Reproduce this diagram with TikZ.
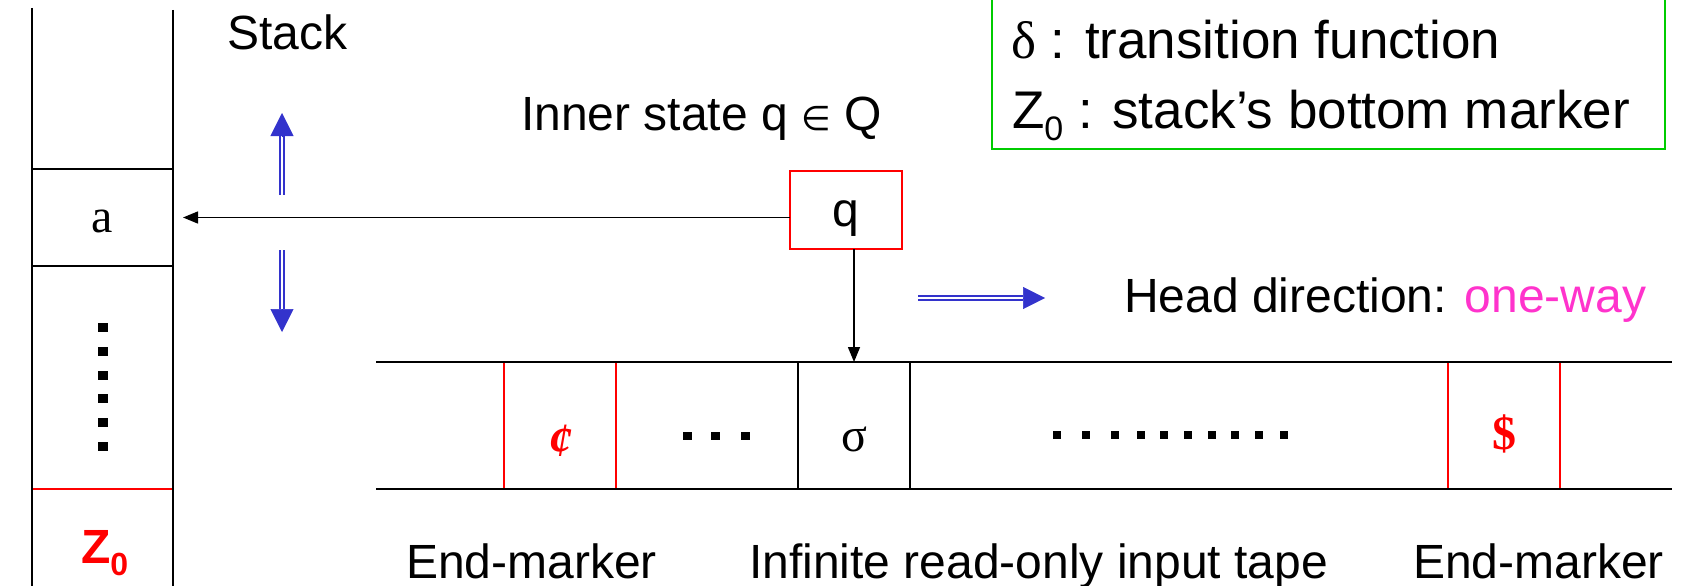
\documentclass[tikz,border=0pt]{standalone}
\usepackage{fontspec}
\setmainfont{Liberation Sans}
\newfontfamily\timesfont{Liberation Serif}
\newfontfamily\symfont{DejaVu Sans}
\usetikzlibrary{arrows.meta}
\definecolor{pdared}{RGB}{255,0,0}
\definecolor{pdagreen}{RGB}{0,204,0}
\definecolor{pdablue}{RGB}{51,51,204}
\definecolor{pdapink}{RGB}{255,51,204}

\begin{document}
\begin{tikzpicture}[x=1pt,y=-1pt,inner sep=0pt,outer sep=0pt,line width=1.5pt,
lbl/.style={font=\fontsize{48}{56}\selectfont,anchor=base west},
legendtext/.style={font=\fontsize{53}{62}\selectfont,anchor=base west},
tapecell/.style={draw,line width=2pt,minimum width=112pt,minimum height=127pt},
statebox/.style={draw=pdared,line width=2pt,minimum width=112pt,minimum height=78pt,text height=36pt,text depth=4pt,font=\fontsize{48}{56}\selectfont},
arr/.style={-{Triangle[length=15pt,width=12pt]}},
twoline/.style={draw=pdablue,line width=2pt,double=white,double distance=2pt},
bluehead/.style={draw=pdablue,fill=pdablue,line width=0.5pt,-{Triangle[length=#1,width=#1]}}]

\useasboundingbox (0,0) rectangle (1681,586);
\clip (0,0) rectangle (1681,586);

\draw (102.5,217.5) node[minimum width=141pt,minimum height=97pt,text height=33pt,text depth=4pt,font=\fontsize{48}{56}\timesfont] (acell) {a};
\draw (846,210) node[statebox] (q) {q};
\draw (560,425.5) node[tapecell,draw=pdared] (centcell) {};
\draw (854,425.5) node[tapecell] (sigcell) {};
\draw (1504,425.5) node[tapecell,draw=pdared] (dollarcell) {};

\draw (32,8) -- (32,586);
\draw (173,10) -- (173,586);
\draw (acell.north west) -- (acell.north east);
\draw (acell.south west) -- (acell.south east);
\draw[pdared,line width=2pt] (33,489) -- (172,489);
\foreach \y in {327,351,375,398,422,446} \fill (98,\y-4.5) rectangle ++(10,9);
\draw (81,563) node[lbl,text=pdared,font=\fontsize{48}{56}\bfseries] (zzero) {Z\raisebox{-12pt}{\fontsize{32}{32}\selectfont 0}};

\draw (376,362) -- (1672,362);
\draw (376,489) -- (1672,489);
\draw (560,441) node[text=pdared,font=\fontsize{48}{56}\timesfont\bfseries\itshape] (cent) {¢};
\draw (854,439) node[font=\fontsize{48}{56}\timesfont] (sigma) {σ};
\draw (1504,434) node[text=pdared,font=\fontsize{48}{56}\timesfont\bfseries] (dollar) {\$};
\foreach \x in {687,715,745} \fill (\x-4.5,432) rectangle ++(9,8);
\foreach \x in {1057,1086,1115,1141,1164,1188,1212,1235,1259,1284} \fill (\x-4,431) rectangle ++(8,8);

\draw (227,50) node[lbl] (stacklbl) {Stack};
\draw (521,130) node[lbl] (statelbl) {Inner state q {\fontsize{34}{34}\symfont ∈} Q};
\draw (1124,312) node[lbl] (headlbl) {Head direction: \textcolor{pdapink}{one-way}};
\draw (406,578) node[lbl] (leftend) {End-marker};
\draw (749,578) node[lbl] (tapelbl) {Infinite read-only input tape};
\draw (1413,578) node[lbl] (rightend) {End-marker};

\draw[pdagreen,line width=2pt] (992,-20) rectangle (1665,149);
\draw (1011,59) node[legendtext] (deltaline) {{\timesfont δ} : transition function};
\draw (1012,128) node[legendtext] (zline) {Z\raisebox{-12pt}{\fontsize{34}{34}\selectfont 0} : stack’s bottom marker};

\draw[arr] (q.west |- acell.east) -- ([xshift=10pt]acell.east);
\draw[arr] (q.south -| sigcell.north) -- (sigcell.north);

\coordinate (pushfrom) at (282,195);
\coordinate (pushbase) at (282,136);
\coordinate (pushtip) at (282,113);
\coordinate (popfrom) at (282,250);
\coordinate (popbase) at (282,309);
\coordinate (poptip) at (282,332);
\coordinate (headfrom) at (918,298);
\coordinate (headbase) at (1023,298);
\coordinate (headtip) at (1045,298);
\draw[twoline] (pushfrom) -- (pushbase);
\draw[bluehead=23pt] (pushbase) -- (pushtip);
\draw[twoline] (popfrom) -- (popbase);
\draw[bluehead=23pt] (popbase) -- (poptip);
\draw[twoline] (headfrom) -- (headbase);
\draw[bluehead=22pt] (headbase) -- (headtip);
\end{tikzpicture}
\end{document}
